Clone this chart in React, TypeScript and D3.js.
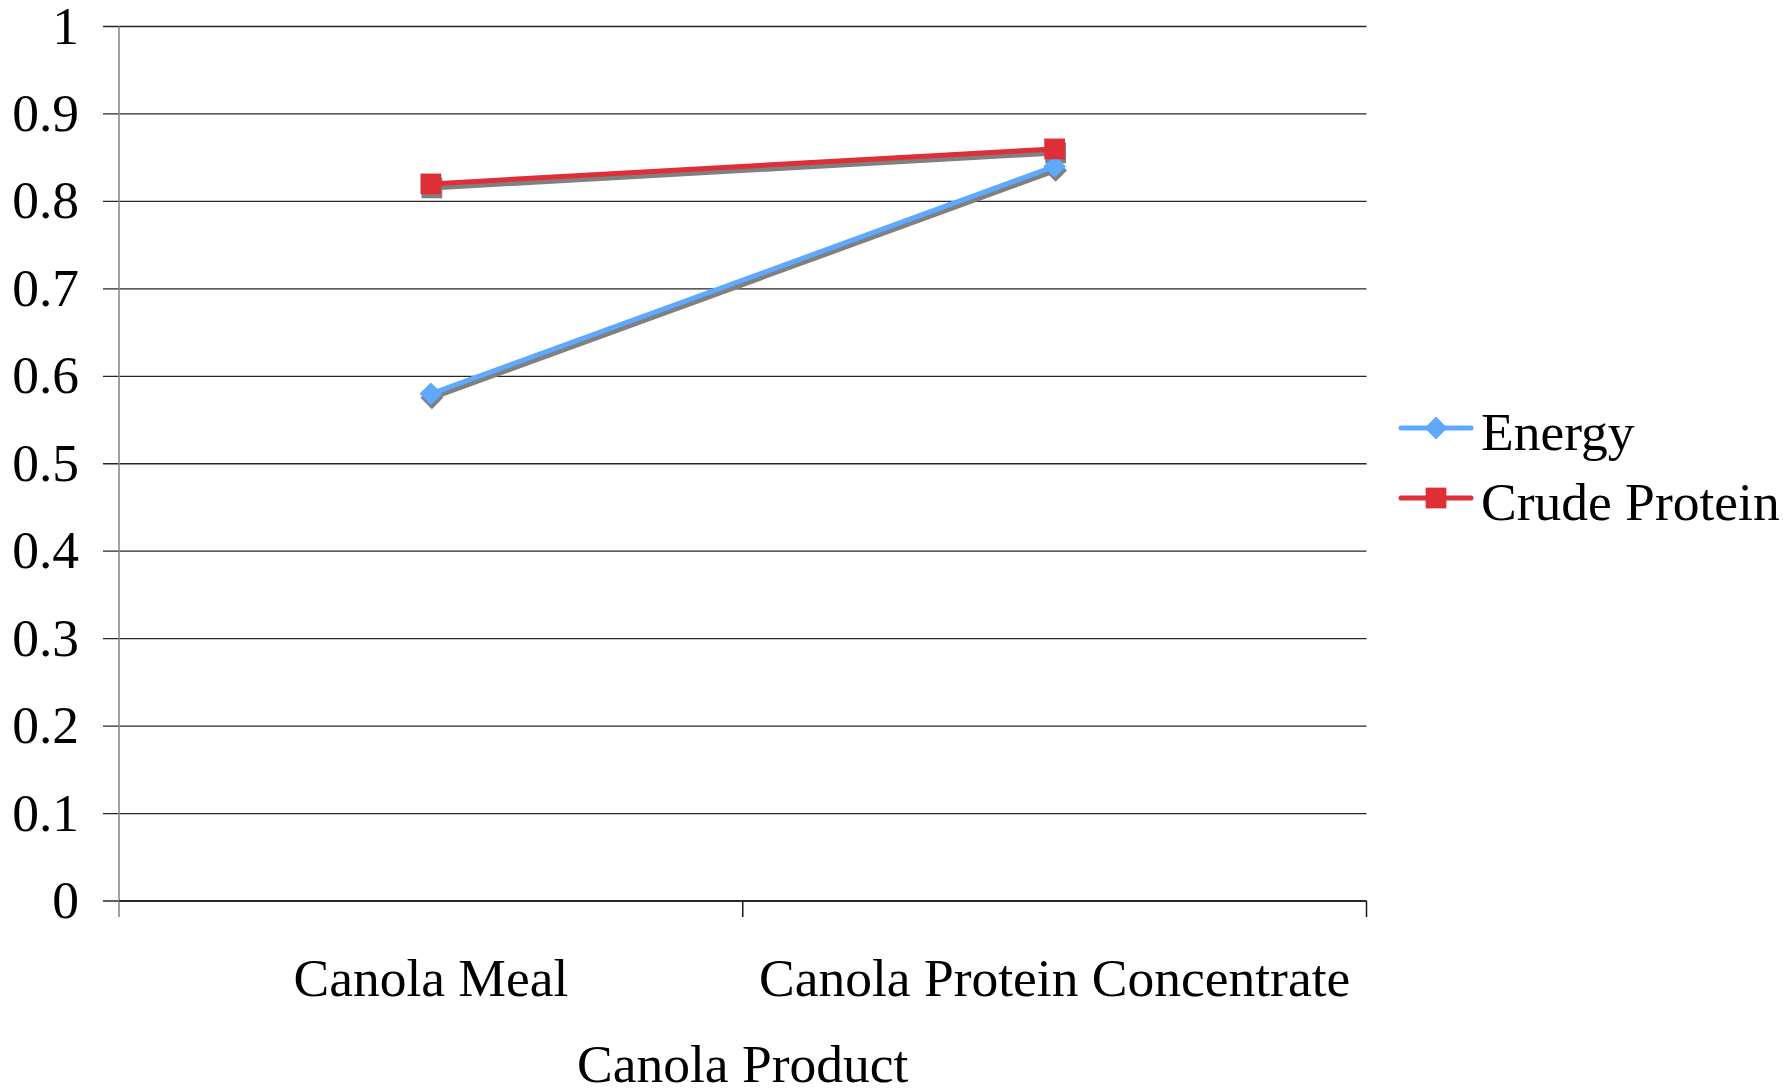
import React from "react";
import * as d3 from "d3";

const categories = ["Canola Meal", "Canola Protein Concentrate"];
const energy = [0.58, 0.84];
const crudeProtein = [0.82, 0.86];
const yTickValues = [0, 0.1, 0.2, 0.3, 0.4, 0.5, 0.6, 0.7, 0.8, 0.9, 1];
const yTickLabels = ["0", "0.1", "0.2", "0.3", "0.4", "0.5", "0.6", "0.7", "0.8", "0.9", "1"];
const seriesNames = ["Energy", "Crude Protein"];
const xTitle = "Canola Product";

const W = 1785;
const H = 1088;
const left = 119;
const right = 1366.5;
const top = 26.5;
const bottom = 901;
const FONT = "'Liberation Serif', 'Times New Roman', serif";
const FS = 53.5;
const BLUE = "#5ea9ff";
const RED = "#de2f36";
const SHADOW = "#808080";

export default function App() {
  const x = d3.scaleBand<string>().domain(categories).range([left, right]).padding(0);
  const y = d3.scaleLinear().domain([0, 1]).range([bottom, top]);
  const cx = (c: string) => (x(c) as number) + x.bandwidth() / 2;

  const series = [
    { name: seriesNames[0], values: energy, color: BLUE, shape: "diamond" },
    { name: seriesNames[1], values: crudeProtein, color: RED, shape: "square" },
  ];

  const line = d3
    .line<number>()
    .x((_, i) => cx(categories[i]))
    .y((v) => y(v));

  const diamond = d3.symbol().type(d3.symbolDiamond2).size(330)();
  const square = d3.symbol().type(d3.symbolSquare).size(430)();

  const marker = (shape: string, px: number, py: number, fill: string, key: string) => (
    <path
      key={key}
      d={(shape === "diamond" ? diamond : square) as string}
      transform={`translate(${px},${py})`}
      fill={fill}
    />
  );

  const boundaries = [left, ...categories.map((c) => (x(c) as number) + x.bandwidth())];

  return (
    <svg
      width={W}
      height={H}
      style={{ position: "fixed", left: 0, top: 0, display: "block", background: "#fff" }}
    >
      <rect x={0} y={0} width={W} height={H} fill="#fff" />
      {/* horizontal gridlines with tick marks */}
      {yTickValues.map((v) => (
        <line key={"g" + v} x1={103} x2={right} y1={y(v)} y2={y(v)} stroke="#262626" strokeWidth={1.3} />
      ))}
      {/* y axis */}
      <line x1={left} x2={left} y1={top} y2={917} stroke="#8a8a8a" strokeWidth={1.6} />
      {/* x axis baseline and category ticks */}
      <line x1={left} x2={right} y1={bottom} y2={bottom} stroke="#1a1a1a" strokeWidth={1.5} />
      {boundaries.slice(1).map((b, i) => (
        <line key={"t" + i} x1={b} x2={b} y1={bottom} y2={917} stroke="#1a1a1a" strokeWidth={1.5} />
      ))}
      {/* y tick labels */}
      {yTickValues.map((v, i) => (
        <text
          key={"yl" + v}
          x={79}
          y={y(v) + 17}
          textAnchor="end"
          fontFamily={FONT}
          fontSize={FS}
          fill="#000"
        >
          {yTickLabels[i]}
        </text>
      ))}
      {/* category labels */}
      {categories.map((c) => (
        <text key={c} x={cx(c)} y={996} textAnchor="middle" fontFamily={FONT} fontSize={FS} fill="#000">
          {c}
        </text>
      ))}
      <text x={(left + right) / 2} y={1082} textAnchor="middle" fontFamily={FONT} fontSize={FS} fill="#000">
        {xTitle}
      </text>

      {/* drop shadows */}
      <g transform="translate(1,4)">
        {series.map((s) => (
          <g key={"sh" + s.name}>
            <path d={line(s.values) as string} fill="none" stroke={SHADOW} strokeWidth={5} />
            {s.values.map((v, i) => marker(s.shape, cx(categories[i]), y(v), SHADOW, "shm" + i))}
          </g>
        ))}
      </g>
      {/* series */}
      {series.map((s) => (
        <g key={"s" + s.name}>
          <path d={line(s.values) as string} fill="none" stroke={s.color} strokeWidth={5} />
          {s.values.map((v, i) => marker(s.shape, cx(categories[i]), y(v), s.color, "m" + i))}
        </g>
      ))}

      {/* legend */}
      {series.map((s, i) => {
        const ly = 428 + i * 70;
        return (
          <g key={"lg" + s.name}>
            <line x1={1401} x2={1471} y1={ly} y2={ly} stroke={s.color} strokeWidth={5} strokeLinecap="round" />
            {marker(s.shape, 1436, ly, s.color, "lm")}
            <text x={1481} y={ly + 22} fontFamily={FONT} fontSize={FS} fill="#000">
              {s.name}
            </text>
          </g>
        );
      })}
    </svg>
  );
}
